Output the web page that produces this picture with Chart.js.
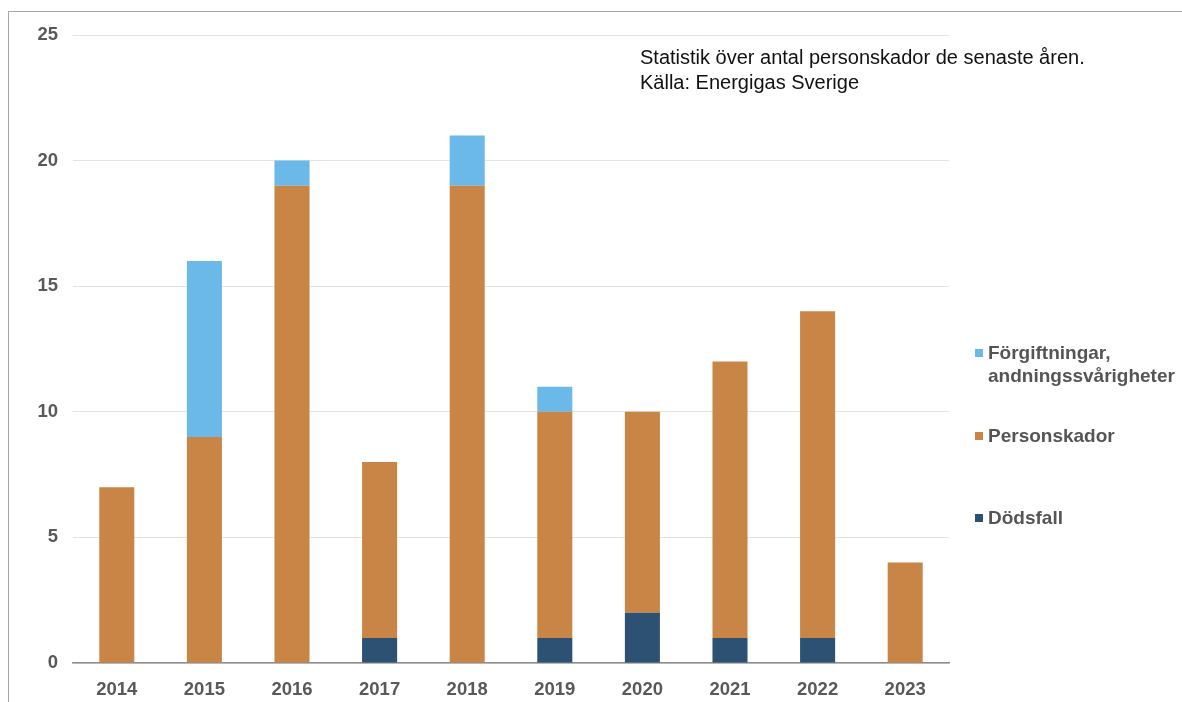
<!DOCTYPE html>
<html><head><meta charset="utf-8">
<script src="https://cdn.jsdelivr.net/npm/chart.js@4.4.1/dist/chart.umd.min.js"></script>
<style>
html,body{margin:0;padding:0;background:#fff;}
#wrap{position:relative;width:1182px;height:702px;overflow:hidden;font-family:"Liberation Sans",Arial,sans-serif;}
#frame{position:absolute;left:8px;top:11px;width:1182px;height:700px;border-top:1.5px solid #a3a7ab;border-left:1.5px solid #a3a7ab;}
canvas{position:absolute;left:0;top:0;}
.note{position:absolute;left:640px;top:45px;font-size:20px;line-height:25px;color:#111;}
.leg{position:absolute;left:975px;font-size:19px;font-weight:bold;color:#555;line-height:23px;}
.leg span.sw{position:absolute;left:0;top:8px;width:8px;height:8px;}
.leg div{margin-left:13px;}
</style></head><body>
<div id="wrap">
<div id="frame"></div>
<canvas id="c" width="1182" height="702"></canvas>
<div class="note">Statistik över antal personskador de senaste åren.<br>Källa: Energigas Sverige</div>
<div class="leg" style="top:341px"><span class="sw" style="background:#6bb9e8"></span><div>Förgiftningar,<br>andningssvårigheter</div></div>
<div class="leg" style="top:424px"><span class="sw" style="background:#c98545"></span><div>Personskador</div></div>
<div class="leg" style="top:506px"><span class="sw" style="background:#2c5173"></span><div>Dödsfall</div></div>
</div>
<script>
const years = ['2014','2015','2016','2017','2018','2019','2020','2021','2022','2023'];
const dodsfall = [0,0,0,1,0,1,2,1,1,0];
const personskador = [7,9,19,7,19,9,8,11,13,4];
const forgiftningar = [0,7,1,0,2,1,0,0,0,0];
const yTicks = [0,5,10,15,20,25];

new Chart(document.getElementById('c'), {
  type: 'bar',
  data: {
    labels: years,
    datasets: [
      {label:'Dödsfall', data: dodsfall, backgroundColor:'#2c5173'},
      {label:'Personskador', data: personskador, backgroundColor:'#c98545'},
      {label:'Förgiftningar, andningssvårigheter', data: forgiftningar, backgroundColor:'#6bb9e8'}
    ]
  },
  options: {
    responsive:false, animation:false,
    layout:{padding:{left:0,top:35,right:233,bottom:0}},
    datasets:{bar:{categoryPercentage:1,barPercentage:0.4}},
    plugins:{legend:{display:false},tooltip:{enabled:false}},
    scales:{
      x:{stacked:true,
        grid:{display:false,drawTicks:false},
        border:{display:true,color:'#8c8c8c',width:1.5},
        ticks:{padding:16,color:'#595959',font:{family:'Liberation Sans',size:18.5,weight:'bold'}},
        afterFit:s=>{s.height=39;}
      },
      y:{stacked:true,min:0,max:25,
        afterBuildTicks:s=>{s.ticks=yTicks.map(v=>({value:v}));},
        grid:{color:'#e3e3e3',drawTicks:false,lineWidth:1},
        border:{display:false},
        ticks:{padding:15,color:'#595959',font:{family:'Liberation Sans',size:18.5,weight:'bold'}},
        afterFit:s=>{s.width=73;}
      }
    }
  }
});
</script>
</body></html>
